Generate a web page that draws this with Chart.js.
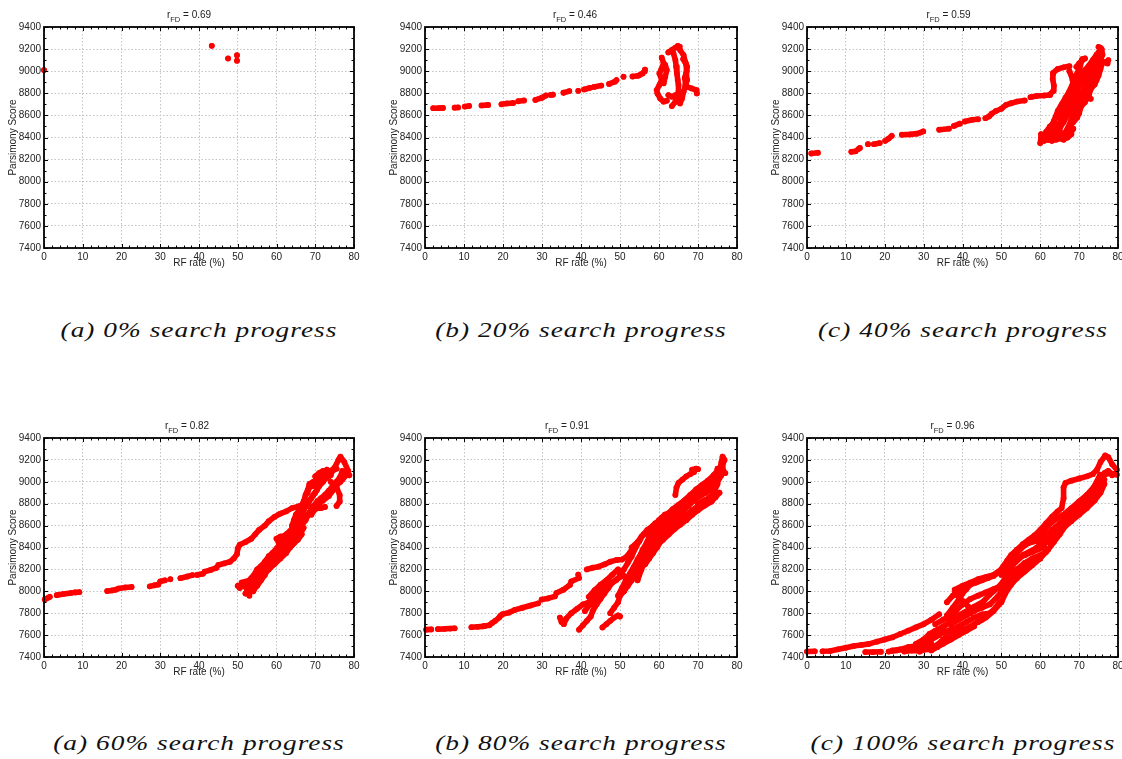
<!DOCTYPE html>
<html>
<head>
<meta charset="utf-8">
<script src="https://cdn.jsdelivr.net/npm/chart.js@4.4.1/dist/chart.umd.min.js"></script>
<style>
  html, body { margin: 0; padding: 0; background: #fff; width: 1122px; height: 759px; overflow: hidden; }
  .panel { position: absolute; }
  .caption {
    position: absolute; width: 400px; text-align: center; white-space: nowrap;
    font: italic 21px "Liberation Serif", "Times New Roman", serif; color: #111;
    letter-spacing: 0.8px; line-height: 26px; transform: scaleX(1.3);
  }
</style>
</head>
<body>
<script>
  // RF rate (%) vs parsimony score, one list of tracks per search stage.
  // Each track is a run of consecutive trees [rfRate, score].
  const xTicks = [0, 10, 20, 30, 40, 50, 60, 70, 80]
  const yTicks = [7400, 7600, 7800, 8000, 8200, 8400, 8600, 8800, 9000, 9200, 9400]
  const rfdValues = ['0.69', '0.46', '0.59', '0.82', '0.91', '0.96']
  const captions = [
    '(a) 0% search progress', '(b) 20% search progress', '(c) 40% search progress',
    '(a) 60% search progress', '(b) 80% search progress', '(c) 100% search progress'
  ]

  const p0Tracks = [
    [[0, 9010]],
    [[43.3, 9230]],
    [[47.5, 9115]],
    [[49.8, 9145]],
    [[49.8, 9095]],
  ]

  const p20Tracks = [
    [[2.1, 8665], [3.4, 8666], [4.6, 8668]],
    [[7.6, 8670], [8.5, 8672]],
    [[10.2, 8680], [11.3, 8686]],
    [[14.5, 8690], [16.2, 8695]],
    [[19.6, 8700], [21, 8708], [22.6, 8712]],
    [[23.9, 8728], [25.4, 8735]],
    [[28.3, 8740], [30, 8760], [31, 8780]],
    [[32.2, 8785], [32.8, 8788]],
    [[35.5, 8805], [37, 8820]],
    [[39.3, 8822]],
    [[40.8, 8835], [42.3, 8850]],
    [[43.3, 8858], [45.2, 8870]],
    [[47.2, 8885], [48.7, 8905], [49.1, 8920]],
    [[50.9, 8950]],
    [[53.2, 8952], [54.6, 8958]],
    [[55, 8965], [55.8, 8980], [56.3, 9000], [56.4, 9015]],
    [[60.7, 9122], [61.2, 9071], [60.5, 9010], [60.1, 8980], [60.7, 8920], [60.1, 8875], [59.4, 8829], [59.6, 8799], [60.3, 8754], [61.2, 8724], [62, 8733]],
    [[61.6, 9056], [62, 9010], [61.6, 8950], [61.2, 8890]],
    [[62.4, 9170], [63.3, 9192], [64.2, 9213], [64.8, 9228], [65.3, 9222]],
    [[63.7, 9162], [64.2, 9101], [64.4, 9041], [64.6, 8980], [64.8, 8920], [65, 8875], [65, 8814], [64.8, 8769], [64.2, 8724], [63.3, 8684]],
    [[65.4, 9192], [66.3, 9146], [66.7, 9086], [67.2, 9041], [67, 8980], [67.2, 8920], [66.7, 8859], [66.3, 8814], [65.9, 8754], [65.4, 8708]],
    [[66.2, 9110], [66.9, 9070], [67.1, 9000], [66.6, 8940], [66.8, 8880]],
    [[67.2, 8859], [68.4, 8844], [69.5, 8829], [69.7, 8799]],
    [[62.4, 8784], [63.3, 8769], [64.2, 8784]],
  ]

  const p40Tracks = [
    [[1.1, 8255], [2.8, 8262]],
    [[11.4, 8270], [12.5, 8275]],
    [[13.2, 8295], [13.6, 8305]],
    [[15.7, 8340]],
    [[17.2, 8340], [18.7, 8350]],
    [[20.1, 8370], [21, 8390], [21.8, 8415]],
    [[24.4, 8425], [26.5, 8428], [28.3, 8435]],
    [[29.1, 8445], [29.9, 8455]],
    [[34, 8470], [36.5, 8480]],
    [[37.8, 8505], [39.3, 8525]],
    [[40.6, 8545], [42.5, 8560], [44, 8565]],
    [[45.9, 8575], [46.8, 8590], [47.5, 8615], [48.6, 8640], [50, 8660], [51.2, 8695], [52.5, 8710], [54, 8725], [56, 8735]],
    [[57.5, 8765], [59, 8775], [61, 8780], [62.5, 8785]],
    [[62.5, 8790], [63.3, 8820], [63.5, 8870], [63.2, 8930], [63.3, 8975]],
    [[63.3, 8985], [64.5, 9020], [66, 9035], [67.5, 9045]],
    [[67.5, 9000], [68, 8960], [68.3, 8920]],
    [[69.3, 9040], [70, 9070], [70.8, 9100], [71.5, 9115]],
    [[68.5, 8850], [69, 8920], [69.5, 8980], [70.3, 9050], [70.8, 9110]],
    [[60, 8350], [60.2, 8400], [61, 8420], [62, 8440], [63.5, 8460], [64.5, 8500], [65.5, 8560], [66.5, 8620], [67, 8680], [68, 8750], [69, 8800], [70, 8860], [71, 8900], [72, 8960], [73, 9000], [74, 9080], [75, 9150], [75.5, 9210]],
    [[62, 8380], [63, 8400], [64, 8380], [65, 8390], [66, 8420], [67, 8480], [68, 8560], [69, 8620], [70, 8700], [71, 8760], [72, 8820], [73, 8880], [74, 8940], [75, 9000], [75.5, 9060]],
    [[64, 8450], [65, 8520], [65.5, 8600], [66, 8650], [67, 8700], [67.5, 8780], [68.5, 8830], [69.5, 8900], [70.5, 8960], [71.5, 9010], [72.5, 9050], [73.5, 9100], [74.5, 9150], [75.2, 9180]],
    [[66, 8400], [67, 8450], [68, 8520], [68.5, 8600], [69.5, 8650], [70, 8700], [71, 8740], [72, 8760], [73, 8750]],
    [[62.5, 8480], [63.5, 8550], [64.5, 8640], [65.5, 8700], [66.5, 8760], [67.5, 8820], [68.5, 8900], [69.5, 8960], [70.5, 9000]],
    [[61, 8370], [62.5, 8400], [64, 8420], [65.5, 8440], [67, 8400], [68, 8430]],
    [[63, 8370], [64.5, 8400], [66, 8380], [67.5, 8420], [68.5, 8480]],
    [[61.5, 8450], [62.5, 8500], [63.5, 8530], [64, 8580], [65, 8620], [66, 8660], [66.5, 8720]],
    [[67.5, 8500], [68.5, 8540], [69.5, 8580], [70, 8620], [70.5, 8680], [71.5, 8720], [72.5, 8780], [73, 8840], [74, 8880], [74.5, 8920], [75, 8960], [75.5, 9020], [76, 9080]],
    [[65, 8480], [66, 8540], [67, 8600], [68, 8660], [69, 8720], [70, 8780], [71, 8820], [72, 8880], [73, 8930], [74, 9000], [74.5, 9060]],
    [[75, 9220], [75.8, 9200], [76, 9150], [75.5, 9100], [76, 9080], [77, 9085], [77.5, 9100]],
    [[75.2, 9100], [76.5, 9080], [77.3, 9070]],
    [[60.2, 8430], [61, 8400], [62.3, 8380]],
  ]

  const p60Tracks = [
    [[0.2, 7925], [1, 7940], [1.5, 7950]],
    [[3.3, 7965], [5, 7975], [7, 7985]],
    [[8, 7990], [9.1, 7992]],
    [[16.3, 8002], [17.5, 8008], [18.5, 8015]],
    [[19.2, 8025], [21, 8035], [22.6, 8040]],
    [[27.3, 8045], [28.5, 8055], [29.5, 8062]],
    [[30, 8090], [31.2, 8100]],
    [[32.6, 8110]],
    [[35.2, 8120], [37, 8135], [38.3, 8148]],
    [[39.5, 8150], [41, 8160]],
    [[41.5, 8180], [43, 8195], [44.5, 8215]],
    [[45, 8240], [46.5, 8255], [48, 8270], [49, 8300], [49.8, 8340], [50, 8390], [50.5, 8425], [52, 8450], [53.5, 8480], [54.5, 8520], [55.5, 8560], [57, 8600], [58, 8640], [59.5, 8680], [61, 8710], [62.5, 8730], [64, 8760], [66, 8780], [68, 8790]],
    [[50, 8050], [50.5, 8030], [51.5, 8060], [52.5, 8010], [53, 7960], [52.5, 8080], [53.5, 8120]],
    [[51, 8080], [53, 8100], [54, 8140], [55, 8200], [56, 8230], [57, 8270], [58, 8320], [59, 8350], [60, 8390], [61, 8440], [62, 8480], [63, 8520], [64, 8560], [65, 8620], [66, 8680], [67, 8740], [68, 8800], [69, 8850], [70, 8900], [71, 8960], [72, 9000], [73, 9050], [74, 9100], [75, 9130], [76, 9200], [76.5, 9230], [77.5, 9180], [78.5, 9100], [78, 9060], [77, 9020]],
    [[53, 8050], [54.5, 8110], [55.5, 8170], [56.5, 8240], [57.5, 8280], [58.5, 8300], [59.5, 8330], [60.5, 8360], [61.5, 8400], [62.5, 8430], [63.5, 8460], [64.5, 8500], [65.5, 8550], [66.5, 8600], [67.5, 8650], [68.5, 8720], [69.5, 8780], [70.5, 8820], [71.5, 8850], [72.5, 8880], [73.5, 8920], [74.5, 8960], [75.5, 9000]],
    [[52, 7980], [53.5, 8050], [55, 8100], [56.5, 8150], [58, 8200], [59.5, 8250], [61, 8300], [62.5, 8350], [63.5, 8400], [64.5, 8450], [65.5, 8500], [66.5, 8550], [67, 8580]],
    [[54, 8000], [55, 8060], [57, 8180], [59, 8280], [61, 8380], [63, 8450], [65, 8560], [66.5, 8650], [68, 8700], [69.5, 8750]],
    [[55, 8050], [56, 8100], [57, 8150], [58, 8220], [59.5, 8280], [61, 8330], [62.5, 8380], [64, 8420], [65.5, 8470], [66.5, 8520]],
    [[53.5, 8000], [54.5, 8050], [56, 8120], [57.5, 8200], [58.5, 8260], [60, 8300], [61.5, 8350], [63, 8400], [64.5, 8440]],
    [[60.5, 8450], [62, 8500], [63.5, 8550], [64.5, 8600], [65.5, 8660], [66.5, 8720], [67.5, 8780], [68.5, 8830], [69.5, 8880], [70.5, 8930]],
    [[64, 8600], [64.5, 8650], [65, 8700], [66, 8750], [67, 8820], [67.5, 8880], [68, 8920], [68.5, 8980], [69.5, 9000], [70.5, 9030], [71.5, 9060], [72.5, 9090], [73, 9110]],
    [[68, 8900], [68.5, 8950], [69.5, 8960], [70.5, 8990], [72, 9010], [73.5, 9050], [74.5, 9100], [75.5, 9120]],
    [[71, 8800], [72.5, 8850], [73.5, 8900], [74.5, 8950], [75.5, 9000], [76.5, 9050], [77, 9100], [78, 9080], [78.8, 9060]],
    [[69, 8700], [70, 8750], [71, 8800], [72, 8830], [73.5, 8870], [74.5, 8920], [75.5, 8970], [76.5, 9000], [77, 9040]],
    [[70, 9050], [71, 9080], [72, 9100], [73, 9080], [74, 9060]],
    [[60, 8480], [61, 8500], [62.5, 8510], [63, 8500]],
    [[68, 8780], [70, 8760], [71.5, 8760], [72.5, 8770]],
    [[62.5, 8520], [64, 8560], [65.5, 8590], [66, 8620]],
    [[74, 9000], [75.5, 8950], [76.3, 8880], [76.3, 8820], [75.5, 8780]],
  ]

  const p80Tracks = [
    [[0.3, 7650], [1.6, 7652]],
    [[3.3, 7655], [5, 7657], [6.5, 7660], [7.6, 7662]],
    [[11.9, 7672], [13.5, 7676], [14.9, 7680]],
    [[15.3, 7683], [16.5, 7690], [17.2, 7710], [18, 7730], [19, 7760], [19.3, 7775]],
    [[19.8, 7790], [21.5, 7805], [23, 7830], [25, 7850], [27, 7870], [29, 7890]],
    [[29.9, 7924], [31.5, 7935], [33.3, 7954]],
    [[33.7, 7985], [35.5, 8015], [37.2, 8060]],
    [[37.5, 8090], [39.5, 8122]],
    [[39.3, 8152]],
    [[41.5, 8200], [43, 8215], [44.5, 8225], [46, 8245], [47.5, 8270], [49, 8285], [50.5, 8290], [51.5, 8310], [52.5, 8350], [53, 8380], [53.5, 8410]],
    [[49.5, 7960], [50.5, 8030], [51.5, 8100], [52.5, 8160], [53.5, 8220], [54.5, 8290], [55.5, 8350], [56.5, 8410], [57.5, 8460], [58.5, 8520], [60, 8560], [61.5, 8600], [63, 8640], [64.5, 8690], [66, 8730], [67.5, 8780], [69, 8830], [70.5, 8880], [72, 8930], [73.5, 8980], [74.5, 9030], [75.5, 9100], [76, 9180], [76.3, 9230], [76.8, 9200], [76.3, 9150], [76.5, 9100], [77, 9080]],
    [[52, 8100], [53, 8150], [54, 8220], [55, 8300], [55.8, 8380], [56.8, 8440], [57.5, 8500], [58.5, 8560], [59.5, 8600], [61, 8640], [62.5, 8680], [64, 8720], [65.5, 8760], [67, 8800], [68.5, 8850], [70, 8900], [71.5, 8950], [73, 8990], [74.5, 9050], [75, 9120]],
    [[54.5, 8100], [55.5, 8200], [56, 8300], [57.5, 8380], [58.5, 8420], [59.5, 8480], [61, 8530], [62.5, 8580], [64, 8620], [65.5, 8660], [67, 8700], [68.5, 8740], [70, 8780], [71.5, 8820], [73, 8860], [74, 8900], [75, 8980]],
    [[50, 8150], [51, 8200], [52, 8260], [53, 8320], [54, 8400], [55, 8460], [56, 8520], [57, 8560], [58.5, 8600], [60, 8620], [62, 8660], [64, 8700], [66, 8760], [68, 8820], [70, 8860], [72, 8900], [73.5, 8940], [75, 9000], [76, 9060]],
    [[53, 8400], [54.5, 8450], [55.5, 8500], [57, 8540], [58, 8580], [59, 8620], [60.5, 8660], [62, 8700], [63.5, 8750], [65, 8790], [66.5, 8830], [68, 8880], [69.5, 8930], [71, 8970], [72.5, 9010], [74, 9060], [75, 9100]],
    [[51, 8000], [52, 8050], [53, 8100], [54, 8150], [55, 8200], [56.5, 8250], [57.5, 8300], [58.5, 8350], [59.5, 8400], [60.5, 8460], [61.5, 8500]],
    [[55, 8250], [56, 8320], [57, 8400], [58, 8460], [59, 8520], [60.5, 8560], [62, 8600], [63.5, 8640], [65, 8680]],
    [[56.5, 8300], [57.5, 8350], [58.5, 8380], [59.5, 8420], [61, 8470], [62.5, 8520], [64, 8570], [65.5, 8610], [67, 8650], [68.5, 8700], [70, 8740], [71.5, 8780]],
    [[60, 8650], [61.5, 8700], [63, 8720], [64.5, 8760], [66, 8800], [67.5, 8830], [69, 8870], [70.5, 8910], [72, 8950], [73.5, 9000], [74.5, 9040]],
    [[70, 8800], [71.5, 8830], [73, 8850], [74.5, 8880], [74, 8960], [73, 9000]],
    [[34.6, 7760], [35, 7720], [35.6, 7700], [36.2, 7750], [37.5, 7800], [39, 7840], [40.5, 7880], [42, 7900], [43.5, 7960], [44.5, 8000], [45.5, 8040], [47, 8060], [48, 8080], [49, 8100]],
    [[39.5, 7650], [40.5, 7690], [41.5, 7730], [42.5, 7770], [43, 7820], [44, 7880], [45, 7930], [46, 7980], [47, 8030], [48, 8080], [49.5, 8120], [51, 8140]],
    [[45.5, 7670], [46.5, 7700], [47.5, 7730], [48.5, 7760], [49.5, 7780], [50, 7770]],
    [[47.5, 7800], [48.5, 7850], [49.5, 7900], [50, 7960], [51, 8000]],
    [[41, 7820], [42, 7870], [43.5, 7890], [45, 7990], [46.5, 8020]],
    [[42, 7950], [43.5, 8010], [45, 8060], [46.5, 8100], [48, 8150], [49.5, 8200]],
    [[64.2, 8880], [64.5, 8950], [65, 8990], [66, 9020], [67, 9050], [68, 9070], [69, 9090]],
    [[68.5, 9110], [69.5, 9120], [70, 9115]],
    [[72, 8790], [73.5, 8820], [74.5, 8860], [75.5, 8900]],
  ]

  const p100Tracks = [
    [[0, 7450], [2, 7452]],
    [[4, 7452], [6, 7455], [8, 7470], [10, 7485], [12, 7500], [14, 7510], [16, 7520], [18, 7540], [20, 7560], [22, 7580], [24, 7610], [26, 7640], [28, 7670], [30, 7700], [32, 7740], [34, 7790]],
    [[15, 7445], [17, 7445], [19, 7448]],
    [[21, 7450], [23, 7460], [25, 7470], [27, 7480], [29, 7490], [31, 7500], [32, 7520]],
    [[25, 7450], [27, 7460], [29, 7455], [31, 7470], [33, 7500], [34.5, 7540], [36, 7580]],
    [[22, 7460], [24, 7470], [26, 7490], [28, 7500], [30, 7530], [32, 7560], [34, 7600]],
    [[28, 7520], [30, 7560], [31.5, 7610], [33, 7640], [35, 7680], [37, 7720]],
    [[29, 7450], [30.5, 7480], [32, 7460], [33.5, 7490], [35, 7520], [37, 7560], [39, 7600], [41, 7640], [43, 7680]],
    [[30.8, 7543], [33, 7600], [36.8, 7726], [39, 7780], [41, 7817], [43, 7860], [45.4, 7908], [47, 7970], [49, 8030], [50.5, 8091], [52, 8170], [53, 8243], [55.7, 8335], [59, 8396], [60.8, 8457], [62.5, 8520], [64.3, 8578], [66, 8640], [67.7, 8700], [69.5, 8760], [71.1, 8822], [72.5, 8880], [73.7, 8943], [75.4, 9065]],
    [[36, 7780], [37.5, 7850], [39, 7920], [40, 7980], [41, 8020], [42, 8060], [43.5, 8080], [45, 8100], [46.5, 8120], [48, 8140], [49.5, 8180], [50.5, 8230], [51.5, 8280], [52.5, 8330], [54, 8380], [55.5, 8430], [57, 8470], [58.5, 8510], [60, 8560], [61.5, 8620], [63, 8680], [64.5, 8730], [65.5, 8760], [66, 8850], [66, 8950], [66.5, 8990], [68, 9010], [70, 9030], [72, 9050], [73.5, 9070], [74.6, 9110], [75.5, 9180], [76.7, 9240], [77.5, 9225], [78.5, 9160], [79.7, 9110]],
    [[38, 8015], [40, 8050], [42, 8080], [44, 8110], [46, 8130], [48, 8150], [50, 8200], [52, 8280], [54, 8350], [56, 8420], [58, 8470], [60, 8520], [62, 8600], [64, 8660], [66, 8700], [68, 8760], [70, 8820], [72, 8880], [74, 8960], [76, 9060], [78, 9080], [79.7, 9065]],
    [[40, 7880], [42, 7930], [44, 7960], [46, 7990], [48, 8020], [50, 8050], [52, 8120], [54, 8200], [56, 8260], [58, 8300], [60, 8330], [61.5, 8360], [61, 8420], [60, 8450]],
    [[35, 7620], [37, 7650], [39, 7680], [41, 7720], [43, 7760], [45, 7790], [47, 7800], [48.5, 7850], [49.5, 7900]],
    [[38, 7980], [39, 7950], [40.5, 7900], [41.5, 7860], [42, 7800]],
    [[44, 7720], [46, 7760], [48, 7820], [50, 7900], [51, 7980], [52.5, 8060], [54, 8120], [56, 8180], [58, 8240], [60, 8300], [62, 8380], [63.5, 8450], [65, 8520], [66.5, 8600], [68, 8660], [70, 8740], [72, 8800], [74, 8880], [75.5, 8960], [76.5, 9020]],
    [[52, 8300], [53.5, 8360], [55, 8400], [57, 8440], [59, 8460], [61, 8500], [63, 8560], [65, 8620], [67, 8680], [69, 8720], [71, 8780], [73, 8840]],
    [[37, 7700], [39, 7740], [41, 7780], [43, 7820], [45, 7850], [47, 7880], [49, 7950], [50.5, 8020], [52, 8080], [54, 8150], [56, 8220], [58, 8270], [60, 8300]],
    [[50, 8150], [51, 8200], [52.5, 8250], [54, 8300], [56, 8330], [58, 8360], [60, 8390]],
    [[62, 8450], [64, 8520], [66, 8580], [68, 8640], [70, 8700], [72, 8760], [74, 8830], [75.5, 8900], [76.5, 8980]],
    [[33, 7700], [35, 7740], [37, 7780], [38.5, 7830], [40, 7880]],
    [[35, 7560], [37, 7600], [39, 7640], [41, 7660], [43, 7700], [45, 7740]],
    [[36, 7900], [37.5, 7960], [39, 8000], [41, 8040]],
    [[74, 8960], [75, 9000], [75.5, 9040], [76.5, 9080], [77.5, 9100], [78.5, 9060], [79.5, 9080]],
  ]

  const allTracks = [p0Tracks, p20Tracks, p40Tracks, p60Tracks, p80Tracks, p100Tracks]

  // Plot-area placement of each panel on the page
  const layout = [
    { left: 44, top: 27, width: 310, height: 221, titleShift: -10 },
    { left: 425, top: 27, width: 312, height: 221, titleShift: -6 },
    { left: 807, top: 27, width: 311, height: 221, titleShift: -14 },
    { left: 44, top: 438, width: 310, height: 219, titleShift: -12 },
    { left: 425, top: 438, width: 312, height: 219, titleShift: -14 },
    { left: 807, top: 438, width: 311, height: 219, titleShift: -10 },
  ]
  const captionBaseline = [337, 337, 337, 750, 750, 750]

  const RED = '#ff0000'
  const FONT = '"Liberation Sans", Arial, sans-serif'
  const AXIS_W = 44, AXIS_H = 30, PAD_TOP = 27, PAD_RIGHT = 10
  const X_MINOR = 2, Y_MINOR = 100

  // MATLAB-style boxed axes with inward ticks, plus the r_FD heading
  const boxedAxes = {
    id: 'boxedAxes',
    afterDraw(chart, args, opts) {
      const {ctx, chartArea: a, scales: {x, y}} = chart
      ctx.save()
      ctx.strokeStyle = '#000'
      ctx.lineWidth = 1
      ctx.beginPath()
      for (let v = xTicks[0]; v <= xTicks[xTicks.length - 1]; v += X_MINOR) {
        const px = Math.round(x.getPixelForValue(v)) + 0.5
        const len = v % 10 === 0 ? 4 : 2.5
        ctx.moveTo(px, a.bottom); ctx.lineTo(px, a.bottom - len)
        ctx.moveTo(px, a.top); ctx.lineTo(px, a.top + len)
      }
      for (let v = yTicks[0]; v <= yTicks[yTicks.length - 1]; v += Y_MINOR) {
        const py = Math.round(y.getPixelForValue(v)) + 0.5
        const len = v % 200 === 0 ? 4 : 2.5
        ctx.moveTo(a.left, py); ctx.lineTo(a.left + len, py)
        ctx.moveTo(a.right, py); ctx.lineTo(a.right - len, py)
      }
      ctx.stroke()
      ctx.lineWidth = 1.8
      ctx.strokeRect(a.left, a.top, a.right - a.left, a.bottom - a.top)

      // r_FD = value, with subscript
      ctx.fillStyle = '#222'
      ctx.textBaseline = 'alphabetic'
      const bigFont = '10px ' + FONT, smallFont = '7.5px ' + FONT
      ctx.font = bigFont
      const wR = ctx.measureText('r').width
      const rest = ' = ' + opts.rfd
      const wRest = ctx.measureText(rest).width
      ctx.font = smallFont
      const wSub = ctx.measureText('FD').width
      let tx = (a.left + a.right) / 2 + opts.shift - (wR + wSub + wRest) / 2
      const base = a.top - 9.5
      ctx.font = bigFont
      ctx.fillText('r', tx, base)
      tx += wR
      ctx.font = smallFont
      ctx.fillText('FD', tx, base + 4)
      tx += wSub
      ctx.font = bigFont
      ctx.fillText(rest, tx, base)
      ctx.restore()
    }
  }

  const makePanel = (index) => {
    const box = layout[index]
    const wrap = document.createElement('div')
    wrap.className = 'panel'
    wrap.style.left = (box.left - AXIS_W) + 'px'
    wrap.style.top = (box.top - PAD_TOP) + 'px'
    const canvas = document.createElement('canvas')
    canvas.width = box.width + AXIS_W + PAD_RIGHT
    canvas.height = box.height + PAD_TOP + AXIS_H
    wrap.appendChild(canvas)
    document.body.appendChild(wrap)

    const datasets = allTracks[index].map(track => ({
      data: track.map(([x, y]) => ({x, y})),
      showLine: true,
      borderColor: RED,
      backgroundColor: RED,
      borderWidth: 5.6,
      borderCapStyle: 'round',
      borderJoinStyle: 'round',
      pointRadius: 2.9,
      pointBorderWidth: 0,
      tension: 0,
      clip: false,
    }))

    const gridStyle = { color: '#c2c2c2', lineWidth: 1, drawTicks: false }
    const tickFont = { family: FONT, size: 10 }

    new Chart(canvas.getContext('2d'), {
      type: 'scatter',
      data: { datasets },
      options: {
        responsive: false,
        animation: false,
        events: [],
        layout: { padding: { top: PAD_TOP, right: PAD_RIGHT, left: 0, bottom: 0 } },
        plugins: {
          legend: { display: false },
          tooltip: { enabled: false },
          boxedAxes: { rfd: rfdValues[index], shift: box.titleShift },
        },
        scales: {
          x: {
            type: 'linear', min: xTicks[0], max: xTicks[xTicks.length - 1],
            afterBuildTicks: s => { s.ticks = xTicks.map(value => ({value})) },
            afterFit: s => { s.height = AXIS_H },
            grid: gridStyle,
            border: { display: false, dash: [1.5, 2] },
            ticks: { autoSkip: false, maxRotation: 0, padding: 3, color: '#222', font: tickFont, callback: v => String(v) },
            title: { display: true, text: 'RF rate (%)', color: '#222', font: tickFont, padding: { top: 0, bottom: 9 } },
          },
          y: {
            type: 'linear', min: yTicks[0], max: yTicks[yTicks.length - 1],
            afterBuildTicks: s => { s.ticks = yTicks.map(value => ({value})) },
            afterFit: s => { s.width = AXIS_W },
            grid: gridStyle,
            border: { display: false, dash: [1.5, 2] },
            ticks: { autoSkip: false, padding: 3, color: '#222', font: tickFont, callback: v => String(v) },
            title: { display: true, text: 'Parsimony Score', color: '#222', font: tickFont, padding: { top: 7, bottom: 0 } },
          },
        },
      },
      plugins: [boxedAxes],
    })

    const cap = document.createElement('div')
    cap.className = 'caption'
    cap.textContent = captions[index]
    cap.style.left = (box.left + box.width / 2 - 200) + 'px'
    cap.style.top = (captionBaseline[index] - 20) + 'px'
    document.body.appendChild(cap)
  }

  layout.forEach((box, i) => makePanel(i))
</script>
</body>
</html>
